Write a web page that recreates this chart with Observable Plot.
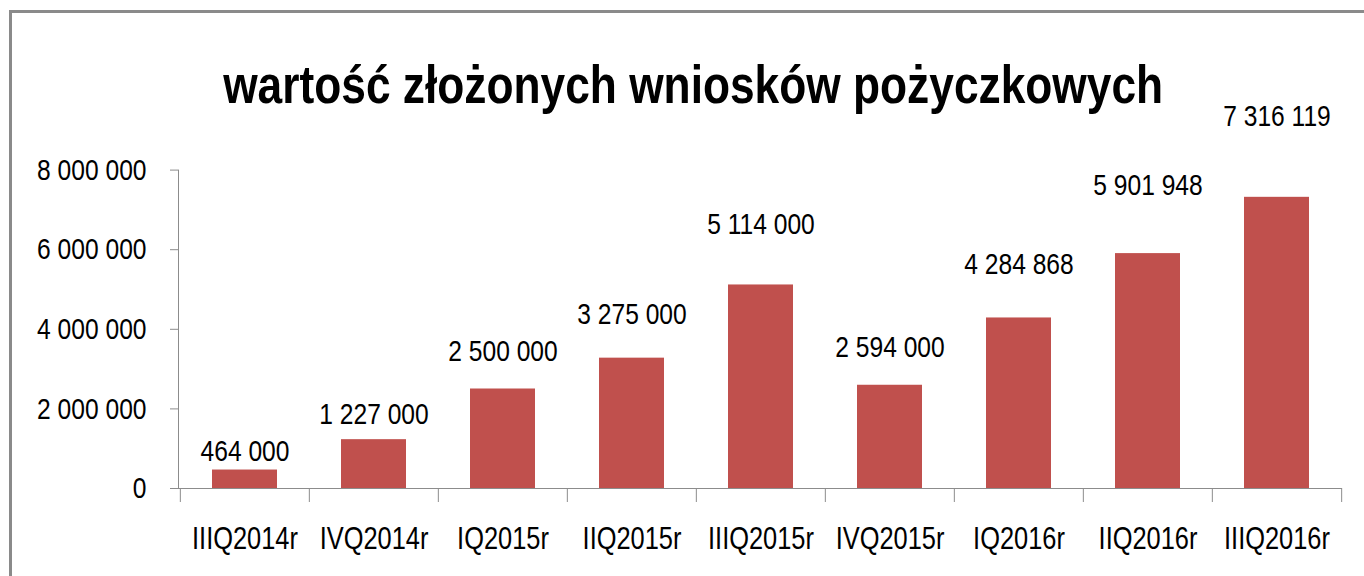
<!DOCTYPE html>
<html><head><meta charset="utf-8">
<script src="https://cdn.jsdelivr.net/npm/d3@7"></script>
<script src="https://cdn.jsdelivr.net/npm/@observablehq/plot@0.6"></script>
<style>
html,body{margin:0;padding:0;background:#fff;}
#wrap{position:relative;width:1364px;height:576px;overflow:hidden;font-family:"Liberation Sans",Arial,sans-serif;}
#frame{position:absolute;left:9px;top:10px;width:1400px;height:700px;border-top:3px solid #8a8a8a;border-left:3px solid #8a8a8a;box-sizing:border-box;}
#titlebox{position:absolute;left:0;top:57px;width:1387px;text-align:center;}
#title{display:inline-block;font-size:54px;line-height:54px;font-weight:bold;color:#000;white-space:nowrap;transform:scaleX(0.82);transform-origin:50% 50%;}
#chart{position:absolute;left:0;top:0;}
</style></head><body>
<div id="wrap"><div id="frame"></div><div id="titlebox"><span id="title"></span></div><div id="chart"></div></div>
<script>
const title = "wartość złożonych wniosków pożyczkowych";
const categories = ["IIIQ2014r","IVQ2014r","IQ2015r","IIQ2015r","IIIQ2015r","IVQ2015r","IQ2016r","IIQ2016r","IIIQ2016r"];
const values = [464000, 1227000, 2500000, 3275000, 5114000, 2594000, 4284868, 5901948, 7316119];
const yTicks = [0, 2000000, 4000000, 6000000, 8000000];

document.getElementById("title").textContent = title;
const data = categories.map((c, i) => ({cat: c, value: values[i]}));
const locale = d3.formatLocale({decimal: ",", thousands: " ", grouping: [3], currency: ["", ""]});
const fmt = locale.format(",");
const axisGray = "#8c8c8c";
const fontFamily = '"Liberation Sans",Arial,sans-serif';
const W = 1364, H = 576, mL = 178, mR = 22, mT = 169.6, mB = 88;
const step = (W - mL - mR) / categories.length;
const narrow = 0.82;

const chart = Plot.plot({
  width: W, height: H,
  marginLeft: mL, marginRight: mR, marginTop: mT, marginBottom: mB,
  style: {fontFamily, fontSize: "30px", color: "#000", background: "transparent", overflow: "visible"},
  x: {domain: categories, paddingInner: 0.5, paddingOuter: 0.25, label: null},
  y: {domain: [0, 8000000], label: null},
  marks: [
    Plot.barY(data, {x: "cat", y: "value", fill: "#c0504d"}),
    Plot.frame({anchor: "left", stroke: axisGray}),
    Plot.ruleY([0], {insetLeft: -8, stroke: axisGray}),
    Plot.ruleX(categories, {x: d => d, dx: -step / 2, insetTop: H - mT - mB, insetBottom: -14, stroke: axisGray}),
    Plot.ruleX([categories[categories.length - 1]], {x: d => d, dx: step / 2, insetTop: H - mT - mB, insetBottom: -14, stroke: axisGray}),
    Plot.axisY({ticks: yTicks, tickSize: 8, tickPadding: 24, tickFormat: fmt, stroke: axisGray, fill: "#000", fontSize: 30, label: null}),
    Plot.axisX({tickSize: 0, tickPadding: 38, fill: "#000", fontSize: 31, label: null}),
    Plot.text(data, {x: "cat", y: d => d.value * 1.227 + 124000, text: d => fmt(d.value), lineAnchor: "bottom", fontSize: 30, fill: "#000"})
  ]
});
// emulate the condensed face of the original by narrowing each glyph run horizontally
chart.querySelectorAll("text").forEach(t => {
  const tr = t.getAttribute("transform") || "";
  t.setAttribute("transform", (tr + ` scale(${narrow},1)`).trim());
});
document.getElementById("chart").appendChild(chart);
</script>
</body></html>
